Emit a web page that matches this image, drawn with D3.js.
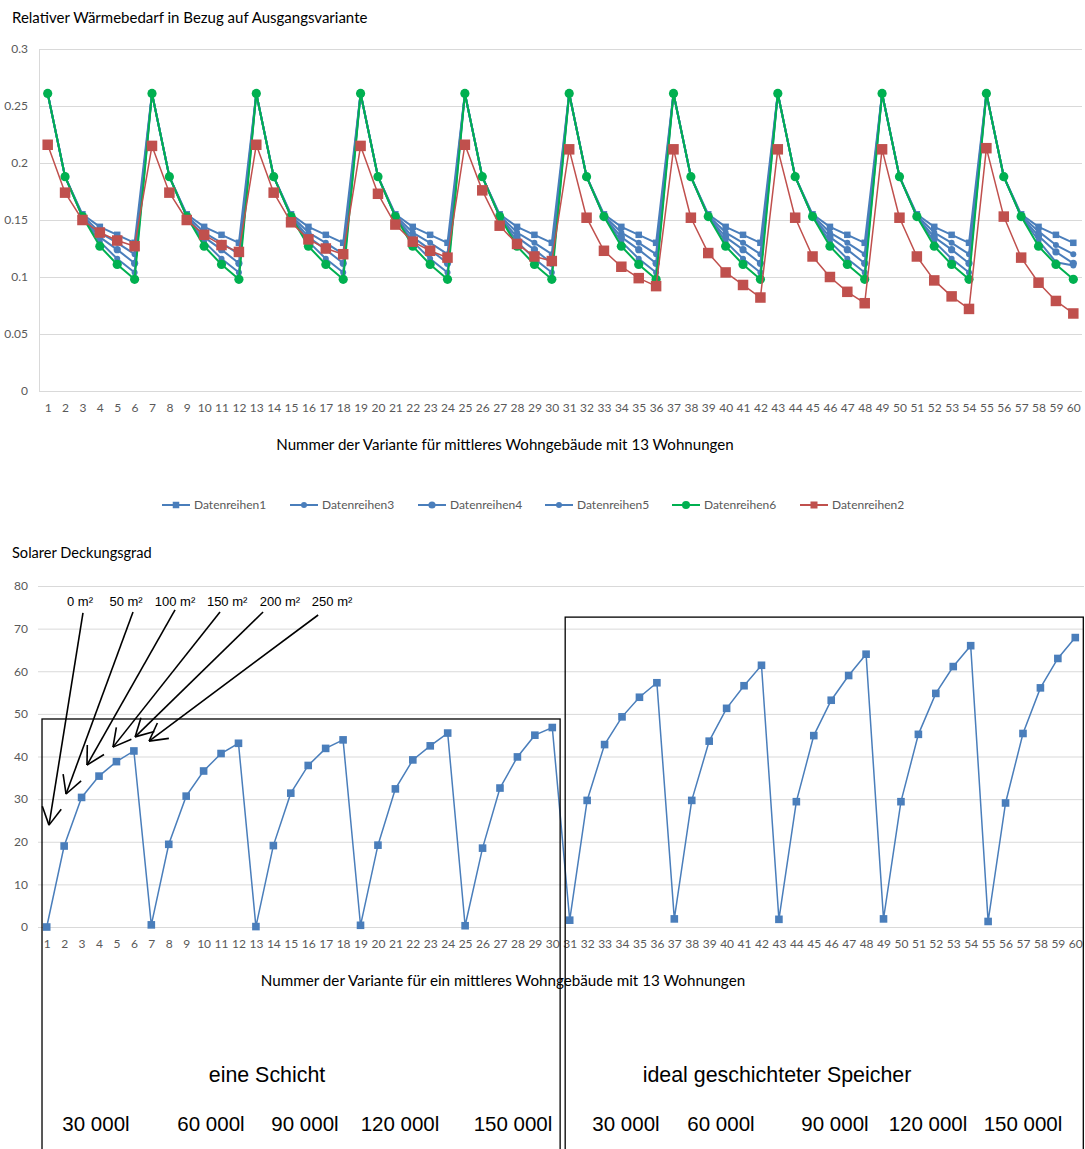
<!DOCTYPE html>
<html><head><meta charset="utf-8">
<script src="https://cdn.jsdelivr.net/npm/d3@7"></script>
<style>body{margin:0;background:#fff}</style>
</head><body>
<svg id="c" width="1085" height="1149"></svg>
<script>
// ---------- DATA ----------
const variants = d3.range(1, 61);
const topTicks = [0, 0.05, 0.1, 0.15, 0.2, 0.25, 0.3];
const botTicks = [0, 10, 20, 30, 40, 50, 60, 70, 80];

const datenreihen1 = [
 0.261,0.188,0.155,0.144,0.137,0.130, 0.261,0.188,0.155,0.144,0.137,0.130,
 0.261,0.188,0.155,0.144,0.137,0.130, 0.261,0.188,0.155,0.144,0.137,0.130,
 0.261,0.188,0.155,0.144,0.137,0.130, 0.261,0.188,0.155,0.144,0.137,0.130,
 0.261,0.188,0.155,0.144,0.137,0.130, 0.261,0.188,0.155,0.144,0.137,0.130,
 0.261,0.188,0.155,0.144,0.137,0.130, 0.261,0.188,0.155,0.144,0.137,0.130];
const datenreihen3 = [
 0.261,0.188,0.154,0.139,0.130,0.120, 0.261,0.188,0.154,0.139,0.130,0.120,
 0.261,0.188,0.154,0.139,0.130,0.120, 0.261,0.188,0.154,0.139,0.130,0.120,
 0.261,0.188,0.154,0.139,0.130,0.120, 0.261,0.188,0.154,0.139,0.130,0.120,
 0.261,0.188,0.154,0.139,0.130,0.120, 0.261,0.188,0.154,0.139,0.130,0.120,
 0.261,0.188,0.154,0.139,0.130,0.120, 0.261,0.188,0.154,0.140,0.128,0.120];
const datenreihen4 = [
 0.261,0.188,0.153,0.135,0.124,0.112, 0.261,0.188,0.153,0.135,0.124,0.112,
 0.261,0.188,0.153,0.135,0.124,0.112, 0.261,0.188,0.153,0.135,0.124,0.112,
 0.261,0.188,0.153,0.135,0.124,0.112, 0.261,0.188,0.153,0.135,0.124,0.112,
 0.261,0.188,0.153,0.135,0.124,0.112, 0.261,0.188,0.153,0.135,0.124,0.112,
 0.261,0.188,0.153,0.135,0.124,0.112, 0.261,0.188,0.153,0.136,0.122,0.112];
const datenreihen5 = [
 0.261,0.188,0.153,0.131,0.116,0.104, 0.261,0.188,0.153,0.131,0.116,0.104,
 0.261,0.188,0.153,0.131,0.116,0.104, 0.261,0.188,0.153,0.131,0.116,0.104,
 0.261,0.188,0.153,0.131,0.116,0.104, 0.261,0.188,0.153,0.131,0.116,0.104,
 0.261,0.188,0.153,0.131,0.116,0.104, 0.261,0.188,0.153,0.131,0.116,0.104,
 0.261,0.188,0.153,0.131,0.116,0.104, 0.261,0.188,0.153,0.132,0.113,0.110];
const datenreihen6 = [
 0.261,0.188,0.153,0.127,0.111,0.098, 0.261,0.188,0.153,0.127,0.111,0.098,
 0.261,0.188,0.153,0.127,0.111,0.098, 0.261,0.188,0.153,0.127,0.111,0.098,
 0.261,0.188,0.153,0.127,0.111,0.098, 0.261,0.188,0.153,0.127,0.111,0.098,
 0.261,0.188,0.153,0.127,0.111,0.098, 0.261,0.188,0.153,0.127,0.111,0.098,
 0.261,0.188,0.153,0.127,0.111,0.098, 0.261,0.188,0.153,0.127,0.111,0.098];
const datenreihen2 = [
 0.216,0.174,0.150,0.139,0.132,0.127, 0.215,0.174,0.150,0.137,0.128,0.122,
 0.216,0.174,0.148,0.133,0.125,0.120, 0.215,0.173,0.146,0.131,0.123,0.117,
 0.216,0.176,0.145,0.129,0.118,0.114, 0.212,0.152,0.123,0.109,0.099,0.092,
 0.212,0.152,0.121,0.104,0.093,0.082, 0.212,0.152,0.118,0.100,0.087,0.077,
 0.212,0.152,0.118,0.097,0.083,0.072, 0.213,0.153,0.117,0.095,0.079,0.068];

const deckungsgrad = [
 0.0,19.0,30.4,35.4,38.8,41.3, 0.5,19.4,30.7,36.6,40.7,43.1,
 0.1,19.1,31.4,37.9,41.9,43.9, 0.4,19.2,32.4,39.2,42.5,45.5,
 0.3,18.5,32.6,39.9,45.0,46.8, 1.6,29.7,42.8,49.3,53.9,57.3,
 1.9,29.7,43.6,51.3,56.6,61.4, 1.8,29.4,44.9,53.2,59.0,64.0,
 1.9,29.4,45.2,54.8,61.1,66.0, 1.3,29.1,45.4,56.1,63.0,67.9];

const collectorLabels = ["0 m²","50 m²","100 m²","150 m²","200 m²","250 m²"];
// arrows in data units of lower chart: label centre variant, tail (variant,value), tip (variant,value)
const collectorLabelX = [2.91, 5.55, 8.36, 11.35, 14.38, 17.37];
const arrowTail = [[3.08,73.7],[5.95,73.9],[8.36,74.4],[10.94,73.9],[13.41,73.9],[16.57,73.2]];
const arrowTip  = [[1.13,23.9],[2.11,31.2],[3.31,38.0],[4.80,42.2],[6.07,44.6],[6.87,43.6]];
const groupTitles = ["eine Schicht", "ideal geschichteter Speicher"];
const volumesLeft  = ["30 000l","60 000l","90 000l","120 000l","150 000l"];
const volumesRight = ["30 000l","60 000l","90 000l","120 000l","150 000l"];

// ---------- SETUP ----------
const FONT = 'Lato, "Open Sans", sans-serif';
const ARIAL = '"Liberation Sans", Arial, sans-serif';
const GRID = '#d9d9d9', TXT = '#595959';
const BLUE = '#4a7ebb', GREEN = '#00b050', RED = '#c0504d';
const svg = d3.select('#c');

// ---------- TOP CHART ----------
const xT = d3.scalePoint().domain(variants).range([39, 1082]).padding(0.5);
const yT = d3.scaleLinear().domain([0, 0.3]).range([391, 49]);

svg.append('text').attr('x', 12).attr('y', 23).text('Relativer Wärmebedarf in Bezug auf Ausgangsvariante')
  .style('font', '15px ' + FONT).attr('fill', '#000');

const gyT = svg.append('g').attr('transform', 'translate(39,0)')
  .call(d3.axisLeft(yT).tickValues(topTicks).tickSize(-1043).tickSizeOuter(0).tickPadding(11)
     .tickFormat(d => String(+d.toFixed(2))));
gyT.select('.domain').attr('stroke', GRID);
gyT.selectAll('.tick line').attr('stroke', GRID);
gyT.selectAll('text').attr('fill', TXT).style('font', '12px ' + FONT);

const gxT = svg.append('g').attr('transform', 'translate(0,391)')
  .call(d3.axisBottom(xT).tickSize(0).tickPadding(12));
gxT.select('.domain').remove();
gxT.selectAll('text').attr('fill', TXT).style('font', '12px ' + FONT);

svg.append('text').attr('x', 505).attr('y', 450).attr('text-anchor', 'middle')
  .text('Nummer der Variante für mittleres Wohngebäude mit 13 Wohnungen')
  .style('font', '15.1px ' + FONT).attr('fill', '#000');

const series = [
  {name: 'Datenreihen1', data: datenreihen1, color: BLUE, shape: 'square', size: 6.5, w: 2},
  {name: 'Datenreihen3', data: datenreihen3, color: BLUE, shape: 'circle', size: 3, w: 2},
  {name: 'Datenreihen4', data: datenreihen4, color: BLUE, shape: 'circle', size: 3.6, w: 2},
  {name: 'Datenreihen5', data: datenreihen5, color: BLUE, shape: 'circle', size: 3, w: 2},
  {name: 'Datenreihen6', data: datenreihen6, color: GREEN, shape: 'circle', size: 4.6, w: 2},
  {name: 'Datenreihen2', data: datenreihen2, color: RED, shape: 'square', size: 10.5, w: 1.5}
];
const lineT = d3.line().x((d, i) => xT(variants[i])).y(d => yT(d));

function drawMarker(g, s, x, y) {
  if (s.shape === 'square') {
    g.append('rect').attr('x', x - s.size / 2).attr('y', y - s.size / 2)
      .attr('width', s.size).attr('height', s.size).attr('fill', s.color);
  } else {
    g.append('circle').attr('cx', x).attr('cy', y).attr('r', s.size).attr('fill', s.color);
  }
}

series.forEach(s => {
  const g = svg.append('g');
  g.append('path').attr('d', lineT(s.data)).attr('fill', 'none')
    .attr('stroke', s.color).attr('stroke-width', s.w).attr('stroke-linejoin', 'round');
  s.data.forEach((v, i) => drawMarker(g, s, xT(variants[i]), yT(v)));
});

// legend
const legendStarts = [162, 290, 418, 545, 672, 800];
series.forEach((s, i) => {
  const g = svg.append('g').attr('transform', `translate(${legendStarts[i]},505)`);
  g.append('line').attr('x1', 0).attr('x2', 28).attr('stroke', s.color).attr('stroke-width', 2);
  const ms = Object.assign({}, s, {size: s.shape === 'square' ? Math.min(s.size, 7) : Math.min(s.size, 4)});
  drawMarker(g, ms, 14, 0);
  g.append('text').attr('x', 32).attr('y', 4).text(s.name)
    .style('font', '12px ' + FONT).attr('fill', TXT);
});

// ---------- BOTTOM CHART ----------
const xB = d3.scalePoint().domain(variants).range([38, 1084]).padding(0.5);
const yB = d3.scaleLinear().domain([0, 80]).range([927, 586]);
const xBc = d3.scaleLinear().domain([1, 60]).range([xB(1), xB(60)]);

svg.append('text').attr('x', 12).attr('y', 558).text('Solarer Deckungsgrad')
  .style('font', '14.6px ' + FONT).attr('fill', '#000');

const gyB = svg.append('g').attr('transform', 'translate(38,0)')
  .call(d3.axisLeft(yB).tickValues(botTicks).tickSize(-1046).tickSizeOuter(0).tickPadding(10));
gyB.select('.domain').remove();
gyB.selectAll('.tick line').attr('stroke', GRID);
gyB.selectAll('text').attr('fill', TXT).style('font', '12px ' + FONT);

const gxB = svg.append('g').attr('transform', 'translate(0,927)')
  .call(d3.axisBottom(xB).tickSize(0).tickPadding(12));
gxB.select('.domain').remove();
gxB.selectAll('text').attr('fill', TXT).style('font', '12px ' + FONT);

svg.append('text').attr('x', 503).attr('y', 986).attr('text-anchor', 'middle')
  .text('Nummer der Variante für ein mittleres Wohngebäude mit 13 Wohnungen')
  .style('font', '15.2px ' + FONT).attr('fill', '#000');

const lineB = d3.line().x((d, i) => xB(variants[i])).y(d => yB(d));
svg.append('path').attr('d', lineB(deckungsgrad)).attr('fill', 'none')
  .attr('stroke', BLUE).attr('stroke-width', 1.5);
svg.append('g').selectAll('rect').data(deckungsgrad).join('rect')
  .attr('x', (d, i) => xB(variants[i]) - 3.8).attr('y', d => yB(d) - 3.8)
  .attr('width', 7.6).attr('height', 7.6).attr('fill', BLUE);

// boxes (annotation)
const ann = svg.append('g');
ann.append('rect').attr('x', xBc(0.73)).attr('y', yB(48.8)).attr('width', xBc(30.45) - xBc(0.73)).attr('height', 500)
  .attr('fill', 'none').attr('stroke', '#000').attr('stroke-width', 1.3);
ann.append('rect').attr('x', xBc(30.74)).attr('y', yB(72.7)).attr('width', xBc(60.46) - xBc(30.74)).attr('height', 600)
  .attr('fill', 'none').attr('stroke', '#000').attr('stroke-width', 1.3);

// arrows
collectorLabels.forEach((lab, i) => {
  ann.append('text').attr('x', xBc(collectorLabelX[i])).attr('y', 606).attr('text-anchor', 'middle')
    .text(lab).style('font', '13px ' + ARIAL).attr('fill', '#000');
  const tx = xBc(arrowTail[i][0]), ty = yB(arrowTail[i][1]);
  const px = xBc(arrowTip[i][0]), py = yB(arrowTip[i][1]);
  ann.append('line').attr('x1', tx).attr('y1', ty).attr('x2', px).attr('y2', py)
    .attr('stroke', '#000').attr('stroke-width', 1.6);
  const ang = Math.atan2(ty - py, tx - px);
  [-0.5, 0.5].forEach(da => {
    ann.append('line').attr('x1', px).attr('y1', py)
      .attr('x2', px + 20 * Math.cos(ang + da)).attr('y2', py + 20 * Math.sin(ang + da))
      .attr('stroke', '#000').attr('stroke-width', 1.6);
  });
});

// group labels
const gt = [267, 777];
groupTitles.forEach((t, i) => ann.append('text').attr('x', gt[i]).attr('y', 1082).attr('text-anchor', 'middle')
  .text(t).style('font', '21.4px ' + ARIAL).attr('fill', '#000'));
const volLX = [96, 211, 305, 400, 513];
const volRX = [626, 721, 835, 928, 1023];
volumesLeft.forEach((t, i) => ann.append('text').attr('x', volLX[i]).attr('y', 1131).attr('text-anchor', 'middle')
  .text(t).style('font', '20.5px ' + ARIAL).attr('fill', '#000'));
volumesRight.forEach((t, i) => ann.append('text').attr('x', volRX[i]).attr('y', 1131).attr('text-anchor', 'middle')
  .text(t).style('font', '20.5px ' + ARIAL).attr('fill', '#000'));
</script>
</body></html>
